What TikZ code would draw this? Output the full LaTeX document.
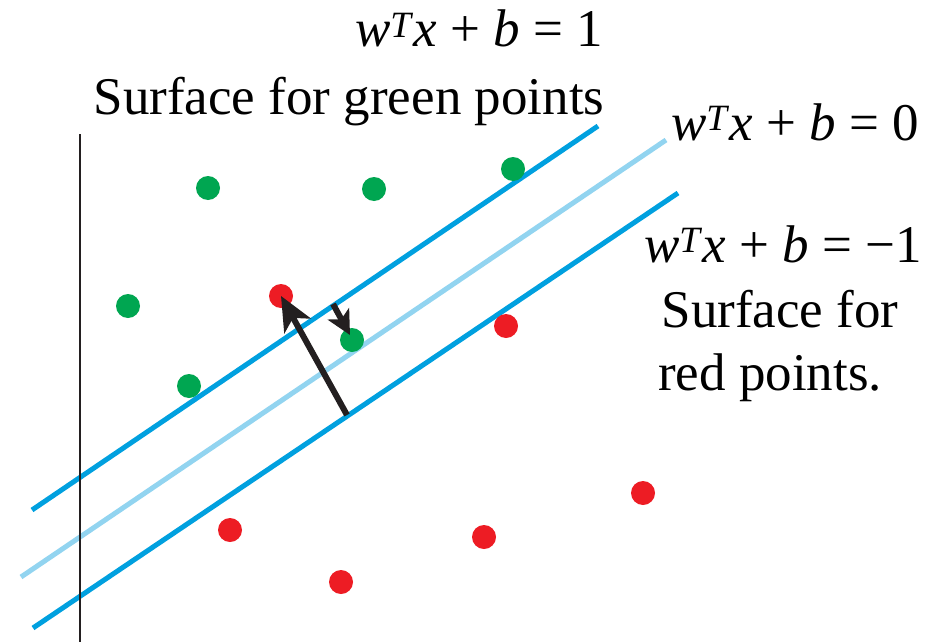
\documentclass[tikz,border=0pt]{standalone}
\usepackage{fontspec}
\setmainfont{Liberation Serif}
\usetikzlibrary{arrows.meta}
\definecolor{lineblue}{RGB}{0,160,223}
\definecolor{paleblue}{RGB}{146,212,240}
\definecolor{dotgreen}{RGB}{0,166,81}
\definecolor{dotred}{RGB}{237,28,36}
\definecolor{arrowblack}{RGB}{35,31,32}
\newcommand{\planeeq}[1]{\textit{w}\textsuperscript{\textit{T}}\textit{x} + \textit{b} = #1}

\begin{document}
\begin{tikzpicture}[x=1pt,y=-1pt,
  lbl/.style={font=\rmfamily\fontsize{53}{60}\selectfont,inner sep=0pt,anchor=base},
  margin/.style={draw=lineblue,line width=5pt},
  hyper/.style={draw=paleblue,line width=5pt},
  gdot/.style={circle,fill=dotgreen,minimum size=24pt,inner sep=0pt},
  rdot/.style={circle,fill=dotred,minimum size=24pt,inner sep=0pt},
  vec/.style={draw=arrowblack,line width=6pt,-{Stealth[length=34pt,width=30pt,inset=9pt]}}]
\useasboundingbox (0,0) rectangle (939,642);
% labels
\node[lbl] (eqone) at (479,47) {\planeeq{1}};
\node[lbl] (greensurf) at (349,114) {Surface for green points};
\node[lbl] (eqzero) at (795,140) {\planeeq{0}};
\node[lbl] (eqminus) at (783,262) {\planeeq{−1}};
\node[lbl] (redsurf) at (780,327) {Surface for};
\node[lbl] (redpts) at (770,390) {red points.};
% margin lines and separating line
\coordinate (topa) at (32,510);   \coordinate (topb) at (598,126);
\coordinate (mida) at (21,577);   \coordinate (midb) at (666,140);
\coordinate (bota) at (33,628);   \coordinate (botb) at (678,193);
\draw[margin] (topa) -- (topb);
\draw[hyper] (mida) -- (midb);
\draw[margin] (bota) -- (botb);
% axis
\coordinate (axtop) at (80,134); \coordinate (axbot) at (80,642);
\draw[arrowblack,line width=1.5pt] (axtop) -- (axbot);
% green points
\foreach \name/\x/\y in {g1/208/188, g2/374/189, g3/513/169, g4/128/306, g5/189/386, g6/352/340}
  \node[gdot] (\name) at (\x,\y) {};
% red points
\foreach \name/\x/\y in {r1/281/296, r2/506/326, r3/230/530, r4/341/582, r5/484/537, r6/643/493}
  \node[rdot] (\name) at (\x,\y) {};
% vectors
\coordinate (foot) at (347,415);
\coordinate (kick) at (333,304);
\draw[vec] (foot) -- (r1.center);
\draw[vec,-{Stealth[length=24pt,width=24pt,inset=6pt]}] (kick) -- ([shift={(-2,-5)}]g6.center);
\end{tikzpicture}
\end{document}
